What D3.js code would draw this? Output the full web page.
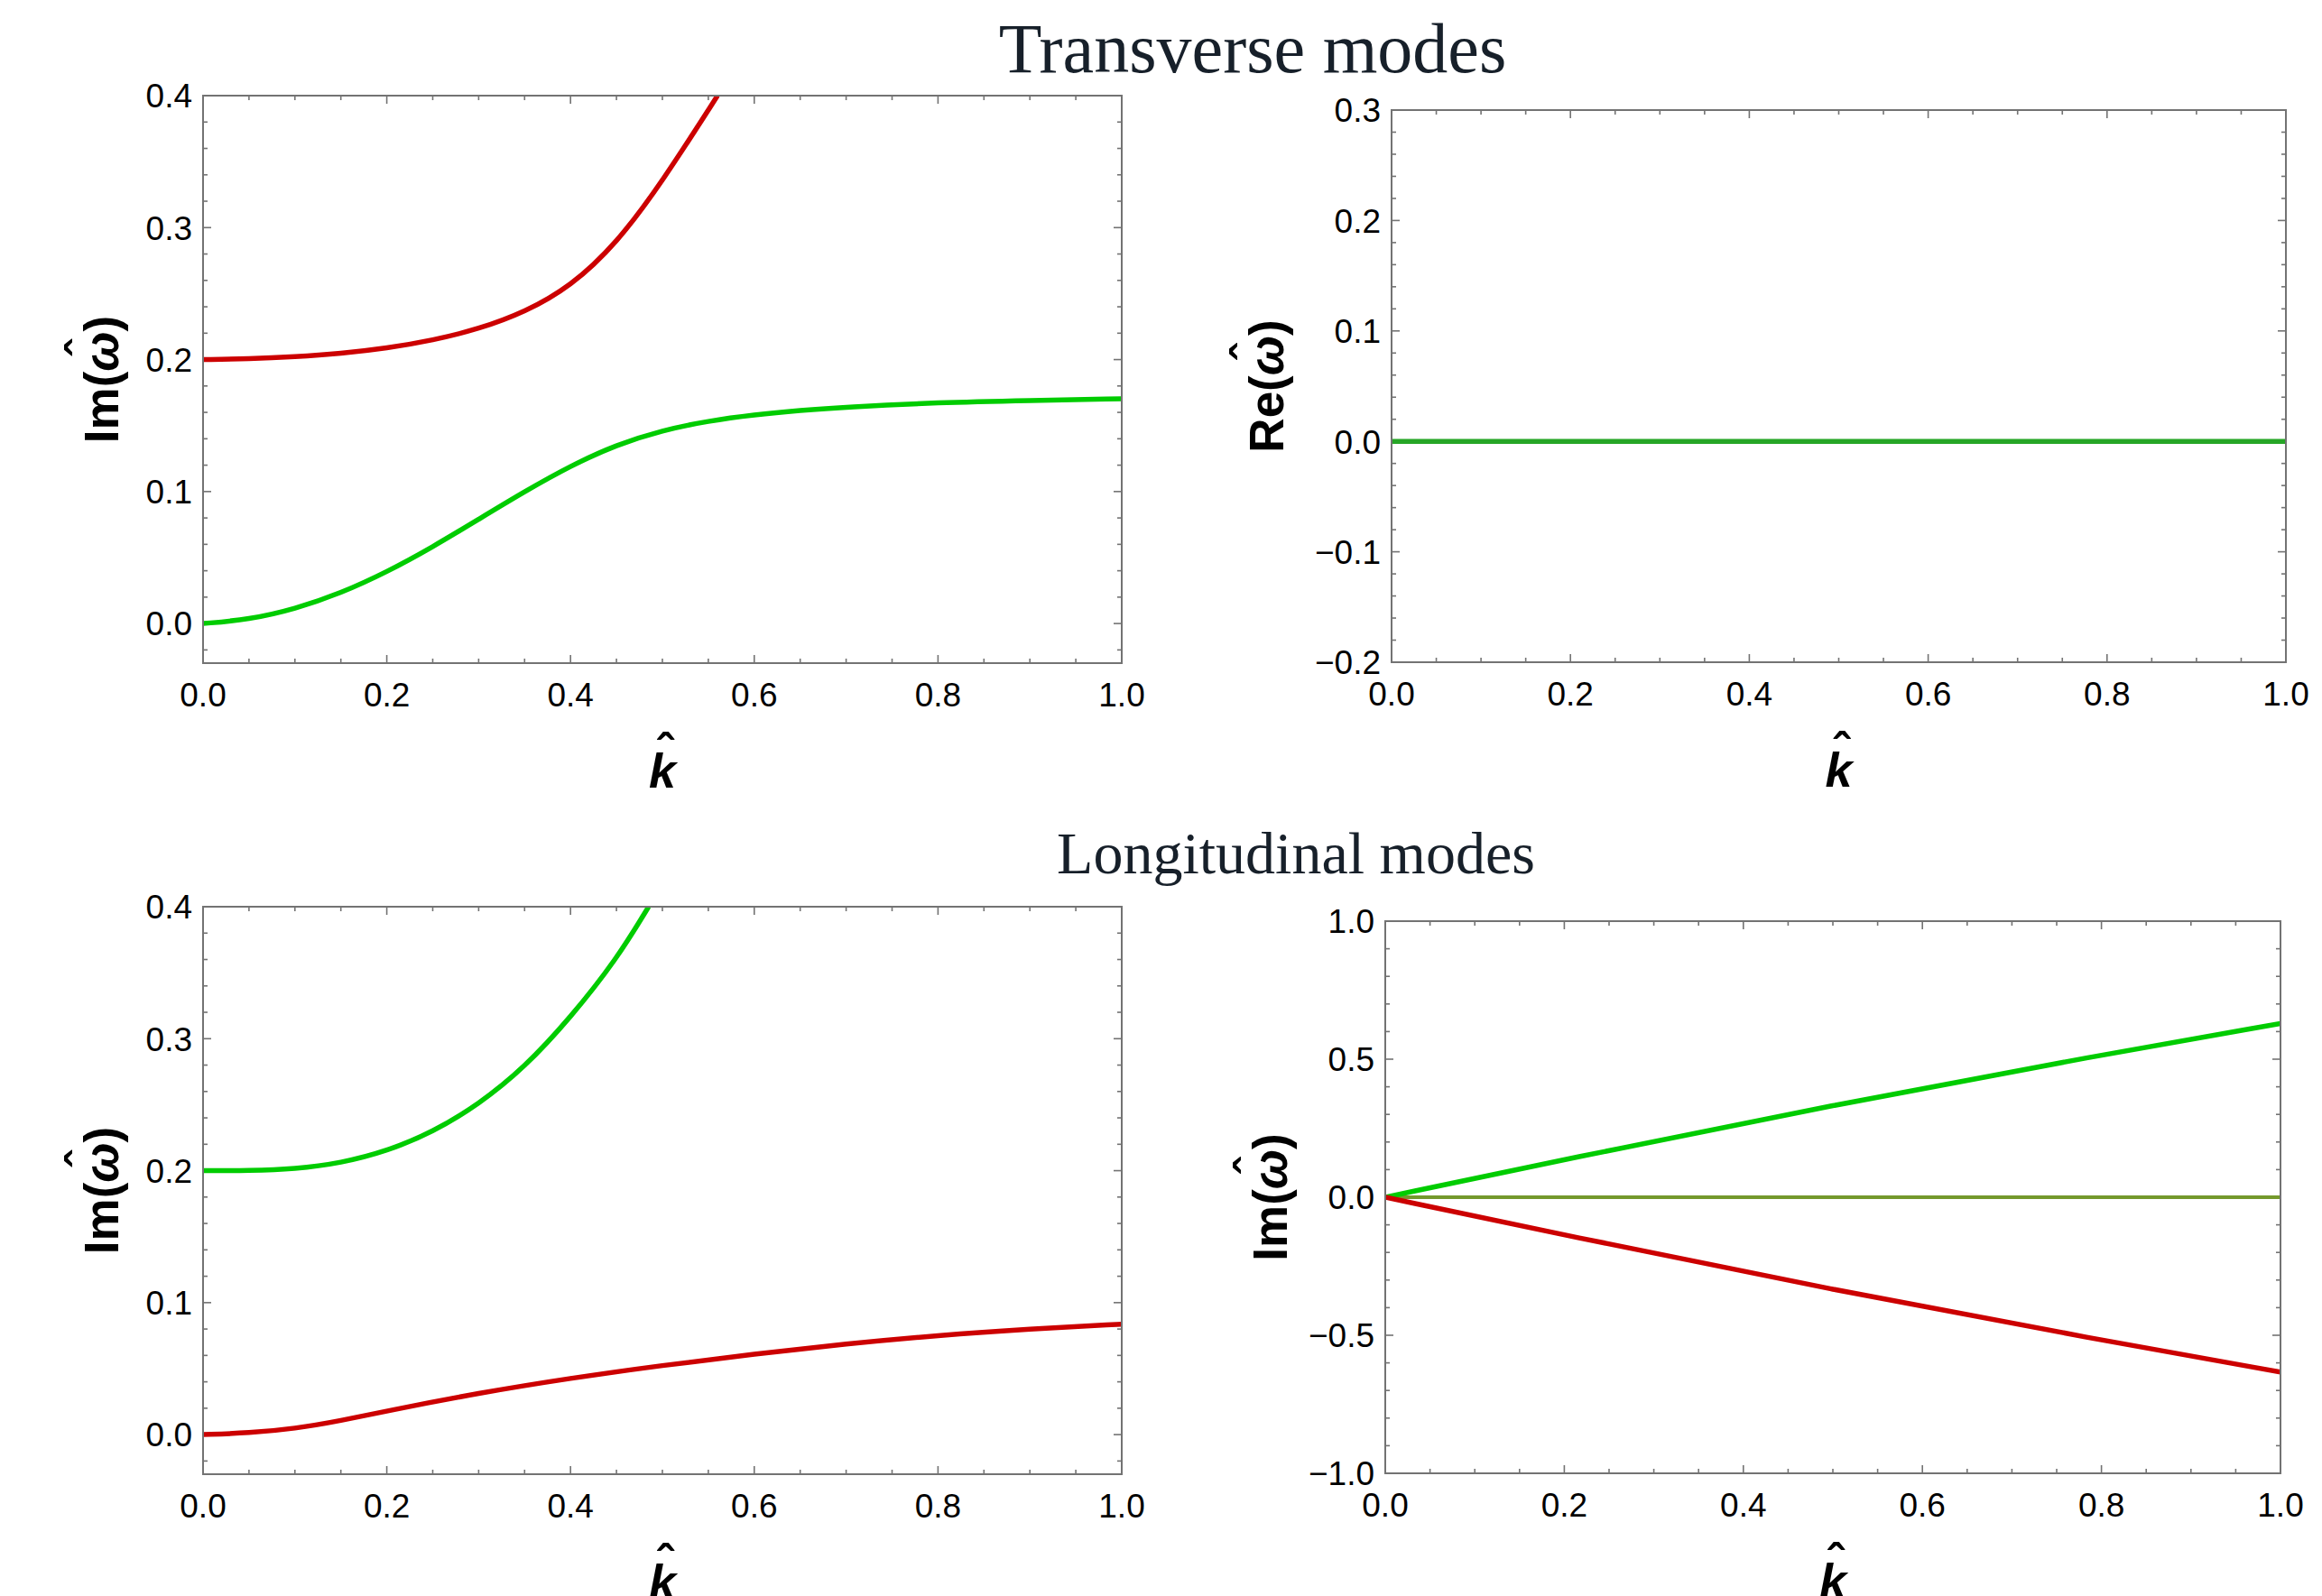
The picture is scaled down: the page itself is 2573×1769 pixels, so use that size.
<!DOCTYPE html>
<html><head><meta charset="utf-8">
<script src="https://cdn.jsdelivr.net/npm/d3@7"></script>
<style>body{margin:0;background:#fff}svg{display:block}</style>
</head><body>
<svg id="c" width="2573" height="1769"></svg>
<script>
// ---------- data ----------
const titles = ["Transverse modes", "Longitudinal modes"];
const xTicks = [0, 0.2, 0.4, 0.6, 0.8, 1.0];

// Transverse, Im(omega)
const tImRedK = [0, 0.05, 0.1, 0.15, 0.2, 0.25, 0.3, 0.35, 0.4, 0.45, 0.5, 0.56];
const tImRedV = [0.2, 0.2005, 0.2021, 0.2046, 0.2086, 0.2146, 0.2231, 0.2358, 0.2553, 0.2878, 0.3348, 0.4];
const tImGreenK = [0, 0.05, 0.1, 0.15, 0.2, 0.25, 0.3, 0.35, 0.4, 0.45, 0.5, 0.55, 0.6, 0.65, 0.7, 0.8, 0.9, 1.0];
const tImGreenV = [0, 0.003, 0.011, 0.023, 0.039, 0.058, 0.079, 0.100, 0.1195, 0.1355, 0.1465, 0.1535, 0.1582, 0.1615, 0.164, 0.1675, 0.169, 0.1703];
// Transverse, Re(omega)
const tReK = [0, 0.25, 0.5, 0.75, 1.0];
const tReV = [0, 0, 0, 0, 0];
// Longitudinal, Im(omega) left
const lImGreenK = [0, 0.05, 0.1, 0.15, 0.2, 0.25, 0.3, 0.35, 0.4, 0.45, 0.485];
const lImGreenV = [0.2, 0.2, 0.2012, 0.2057, 0.2147, 0.2292, 0.2502, 0.2782, 0.316, 0.36, 0.4];
const lImRedK = [0, 0.05, 0.1, 0.15, 0.2, 0.3, 0.4, 0.5, 0.6, 0.7, 0.8, 0.9, 1.0];
const lImRedV = [0, 0.0012, 0.0045, 0.0105, 0.018, 0.0315, 0.0428, 0.0525, 0.061, 0.0688, 0.0752, 0.080, 0.0837];
// Longitudinal, right
const lRGreenK = [0, 0.2, 0.5, 0.8, 1.0];
const lRGreenV = [0, 0.137, 0.334, 0.516, 0.629];
const lRRedK = [0, 0.2, 0.5, 0.8, 1.0];
const lRRedV = [0, -0.137, -0.336, -0.518, -0.633];
const lROliveK = [0, 0.5, 1.0];
const lROliveV = [0, 0, 0];

const yTicks1 = [0.0, 0.1, 0.2, 0.3, 0.4];
const yTicks2 = [-0.2, -0.1, 0.0, 0.1, 0.2, 0.3];
const yTicks4 = [-1.0, -0.5, 0.0, 0.5, 1.0];

const RED = "#cc0000", GREEN = "#00cc00", DGREEN = "#26a626", OLIVE = "#74992c";

// ---------- drawing ----------
const svg = d3.select("#c");
svg.append("rect").attr("width", 2573).attr("height", 1769).attr("fill", "#fff");

const zip = (k, v) => k.map((d, i) => [d, v[i]]);
const fmt = d => (d < 0 ? "\u2212" : "") + Math.abs(d).toFixed(1);
const tf = "'Liberation Sans', Arial, sans-serif";

function panel(o) {
  const x = d3.scaleLinear().domain([0, 1]).range([o.x0, o.x1]);
  const y = d3.scaleLinear().domain(o.yDom).range([o.y1, o.y0]);
  const g = svg.append("g");
  const id = "clip" + Math.round(o.x0) + "_" + Math.round(o.y0);
  svg.append("clipPath").attr("id", id).append("rect")
    .attr("x", o.x0).attr("y", o.y0).attr("width", o.x1 - o.x0).attr("height", o.y1 - o.y0);

  const tickCol = "#737373";
  const xMinor = d3.range(0, 1.0001, 0.05);
  const yMinor = d3.range(Math.round(o.yDom[0] / o.yMinor), Math.round(o.yDom[1] / o.yMinor) + 1)
    .map(i => i * o.yMinor).filter(v => v >= o.yDom[0] - 1e-9 && v <= o.yDom[1] + 1e-9);
  const isMajor = (v, step) => Math.abs(v / step - Math.round(v / step)) < 1e-6;
  xMinor.forEach(v => {
    const L = isMajor(v, 0.2) ? 9 : 5;
    g.append("line").attr("x1", x(v)).attr("x2", x(v)).attr("y1", o.y1).attr("y2", o.y1 - L).attr("stroke", tickCol).attr("stroke-width", 1.6);
    g.append("line").attr("x1", x(v)).attr("x2", x(v)).attr("y1", o.y0).attr("y2", o.y0 + L).attr("stroke", tickCol).attr("stroke-width", 1.6);
  });
  yMinor.forEach(v => {
    const L = isMajor(v, o.yMajor) ? 9 : 5;
    g.append("line").attr("y1", y(v)).attr("y2", y(v)).attr("x1", o.x0).attr("x2", o.x0 + L).attr("stroke", tickCol).attr("stroke-width", 1.6);
    g.append("line").attr("y1", y(v)).attr("y2", y(v)).attr("x1", o.x1).attr("x2", o.x1 - L).attr("stroke", tickCol).attr("stroke-width", 1.6);
  });

  // curves
  const line = d3.line().x(d => x(d[0])).y(d => y(d[1])).curve(d3.curveBasis);
  const cg = svg.append("g").attr("clip-path", `url(#${id})`);
  o.series.forEach(s => {
    cg.append("path").attr("d", line(zip(s.k, s.v))).attr("fill", "none")
      .attr("stroke", s.c).attr("stroke-width", s.w || 5.5).attr("stroke-linecap", "butt");
  });

  // frame
  svg.append("rect").attr("x", o.x0).attr("y", o.y0).attr("width", o.x1 - o.x0).attr("height", o.y1 - o.y0)
    .attr("fill", "none").attr("stroke", tickCol).attr("stroke-width", 2);

  // tick labels
  xTicks.forEach(v => {
    svg.append("text").attr("x", x(v)).attr("y", o.y1 + 48).attr("text-anchor", "middle")
      .attr("font-family", tf).attr("font-size", 37).attr("fill", "#000").text(v.toFixed(1));
  });
  o.yTicks.forEach(v => {
    svg.append("text").attr("x", o.x0 - 12).attr("y", y(v)).attr("dy", "0.36em").attr("text-anchor", "end")
      .attr("font-family", tf).attr("font-size", 37).attr("fill", "#000").text(fmt(v));
  });

  // x label k-hat (single text element)
  const kx = (o.x0 + o.x1) / 2, ky = o.y1 + 138;
  const kt = svg.append("text").attr("x", kx).attr("y", ky)
    .attr("font-family", tf).attr("font-weight", "bold").attr("font-size", 54);
  kt.append("tspan").attr("font-style", "italic").text("k");
  const kw = kt.node().getComputedTextLength();
  const kh = kt.append("tspan").attr("dy", -22).text("\u02C6");
  const hw = kt.node().getComputedTextLength() - kw;
  kh.attr("dx", -(kw / 2 + hw / 2) + 3);
  kt.attr("x", kx - kw / 2);

  // y label with hat on omega (single text element)
  const lg = svg.append("g").attr("transform", `translate(${o.labX},${(o.y0 + o.y1) / 2}) rotate(-90)`);
  const t = lg.append("text").attr("x", 0).attr("y", 0)
    .attr("font-family", tf).attr("font-weight", "bold").attr("font-size", 53);
  t.append("tspan").text(o.labName + "(");
  t.append("tspan").attr("font-style", "italic").text("\u03C9");
  const node = t.node();
  const n = o.labName.length + 1;
  const s0 = node.getStartPositionOfChar(n).x, s1 = node.getEndPositionOfChar(n).x;
  const w1 = node.getComputedTextLength();
  const hat = t.append("tspan").attr("dy", -20).text("\u02C6");
  const hw2 = node.getComputedTextLength() - w1;
  const hatStart = (s0 + s1) / 2 - hw2 / 2 + 4;
  hat.attr("dx", hatStart - s1);
  t.append("tspan").attr("dy", 20).attr("dx", s1 - (hatStart + hw2)).text(")");
  const realW = s1 + (node.getEndPositionOfChar(n + 2).x - node.getStartPositionOfChar(n + 2).x);
  t.attr("x", -realW / 2);
}

panel({ x0: 225, x1: 1243, y0: 106, y1: 735, yDom: [-0.03, 0.4], yMajor: 0.1, yMinor: 0.02, yTicks: yTicks1,
  labX: 131, labName: "Im",
  series: [{ k: tImRedK, v: tImRedV, c: RED }, { k: tImGreenK, v: tImGreenV, c: GREEN }] });
panel({ x0: 1542, x1: 2533, y0: 122, y1: 734, yDom: [-0.2, 0.3], yMajor: 0.1, yMinor: 0.02, yTicks: yTicks2,
  labX: 1422, labName: "Re",
  series: [{ k: tReK, v: tReV, c: DGREEN }] });
panel({ x0: 225, x1: 1243, y0: 1005, y1: 1634, yDom: [-0.03, 0.4], yMajor: 0.1, yMinor: 0.02, yTicks: yTicks1,
  labX: 131, labName: "Im",
  series: [{ k: lImGreenK, v: lImGreenV, c: GREEN }, { k: lImRedK, v: lImRedV, c: RED }] });
panel({ x0: 1535, x1: 2527, y0: 1021, y1: 1633, yDom: [-1, 1], yMajor: 0.5, yMinor: 0.1, yTicks: yTicks4,
  labX: 1426, labName: "Im",
  series: [{ k: lROliveK, v: lROliveV, c: OLIVE, w: 4 }, { k: lRGreenK, v: lRGreenV, c: GREEN }, { k: lRRedK, v: lRRedV, c: RED }] });

// titles
const sf = "'Liberation Serif', 'Times New Roman', serif";
svg.append("text").attr("x", 1388).attr("y", 80).attr("text-anchor", "middle").attr("font-family", sf)
  .attr("font-size", 78).attr("fill", "#17202a").text(titles[0]);
svg.append("text").attr("x", 1436).attr("y", 968).attr("text-anchor", "middle").attr("font-family", sf)
  .attr("font-size", 66).attr("fill", "#17202a").text(titles[1]);
</script>
</body></html>
